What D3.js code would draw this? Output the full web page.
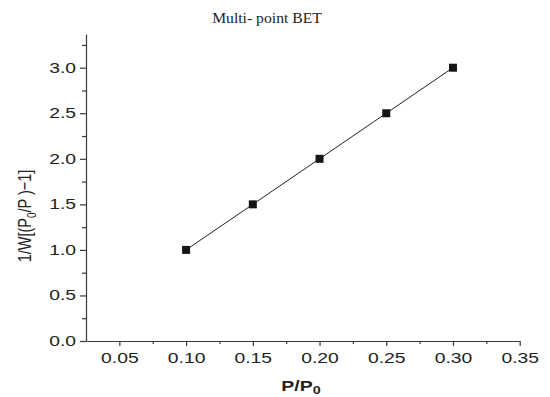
<!DOCTYPE html>
<html>
<head>
<meta charset="utf-8">
<script src="https://cdn.jsdelivr.net/npm/d3@7"></script>
<style>
  body { margin: 0; background: #fff; }
  svg { display: block; }
</style>
</head>
<body>
<svg id="chart" width="550" height="397"></svg>
<script>
// BET data
var pressure = [0.10, 0.15, 0.20, 0.25, 0.30];
var betValue = [1.0, 1.5, 2.0, 2.5, 3.0];
var xTicks = [0.05, 0.10, 0.15, 0.20, 0.25, 0.30, 0.35];
var xMinor = [0.075, 0.125, 0.175, 0.225, 0.275, 0.325];
var yTicks = [0.0, 0.5, 1.0, 1.5, 2.0, 2.5, 3.0];
var yMinor = [0.25, 0.75, 1.25, 1.75, 2.25, 2.75, 3.25];

var svg = d3.select("#chart");
var axisColor = "#3a3a3a";
var stretch = 1.38; // labels in the source are wide

var x = d3.scaleLinear().domain([0.025, 0.35]).range([86, 519.7]);
var y = d3.scaleLinear().domain([0, 3.37]).range([341, 34]);

// minor ticks first so major axis draws over them
svg.append("g")
    .attr("transform", "translate(0,341)")
    .call(d3.axisBottom(x).tickValues(xMinor).tickSize(3).tickFormat(""))
    .call(function (g) { g.select(".domain").remove(); });
svg.append("g")
    .attr("transform", "translate(86,0)")
    .call(d3.axisLeft(y).tickValues(yMinor).tickSize(4).tickFormat(""))
    .call(function (g) { g.select(".domain").remove(); });

var gx = svg.append("g")
    .attr("transform", "translate(0,341)")
    .call(d3.axisBottom(x).tickValues(xTicks).tickSize(5).tickSizeOuter(0).tickPadding(7)
        .tickFormat(d3.format(".2f")));
gx.selectAll(".tick text")
    .attr("transform", "scale(" + stretch + ",1)");

var gy = svg.append("g")
    .attr("transform", "translate(86,0)")
    .call(d3.axisLeft(y).tickValues(yTicks).tickSize(6).tickSizeOuter(0).tickPadding(4)
        .tickFormat(d3.format(".1f")));
gy.selectAll(".tick text")
    .attr("x", -10 / stretch)
    .attr("transform", "scale(" + stretch + ",1)");

svg.selectAll(".domain, .tick line")
    .attr("stroke", axisColor)
    .attr("stroke-width", 1.2);
svg.selectAll(".tick text")
    .attr("font-family", "Liberation Sans, Arial, sans-serif")
    .attr("font-size", 14)
    .attr("fill", "#222");

// connecting line
var line = d3.line()
    .x(function (d, i) { return x(pressure[i]); })
    .y(function (d) { return y(d); });
svg.append("path")
    .datum(betValue)
    .attr("d", line)
    .attr("fill", "none")
    .attr("stroke", "#222")
    .attr("stroke-width", 1);

// square markers
svg.append("g").selectAll("rect")
    .data(betValue)
  .enter().append("rect")
    .attr("x", function (d, i) { return x(pressure[i]) - 4; })
    .attr("y", function (d) { return y(d) - 4; })
    .attr("width", 8)
    .attr("height", 8)
    .attr("fill", "#151515");

// title
svg.append("text")
    .attr("transform", "translate(267,23) scale(1.12,1)")
    .attr("text-anchor", "middle")
    .attr("font-family", "Liberation Serif, Times New Roman, serif")
    .attr("font-size", 14)
    .attr("fill", "#222")
    .text("Multi- point BET");

// x label
var xl = svg.append("text")
    .attr("transform", "translate(301,391) scale(1.3,1)")
    .attr("text-anchor", "middle")
    .attr("font-family", "Liberation Sans, Arial, sans-serif")
    .attr("font-weight", "bold")
    .attr("font-size", 15)
    .attr("fill", "#222");
xl.append("tspan").text("P/P");
xl.append("tspan").attr("dy", 2.5).attr("font-size", 11).text("0");

// y label
var yl = svg.append("text")
    .attr("transform", "translate(31,216) rotate(-90) scale(1,1.3)")
    .attr("text-anchor", "middle")
    .attr("font-family", "Liberation Sans, Arial, sans-serif")
    .attr("font-size", 14.5)
    .attr("fill", "#222");
yl.append("tspan").text("1/W[(P");
yl.append("tspan").attr("dy", 4).attr("font-size", 10).text("0");
yl.append("tspan").attr("dy", -4).text("/P )\u22121]");
</script>
</body>
</html>
